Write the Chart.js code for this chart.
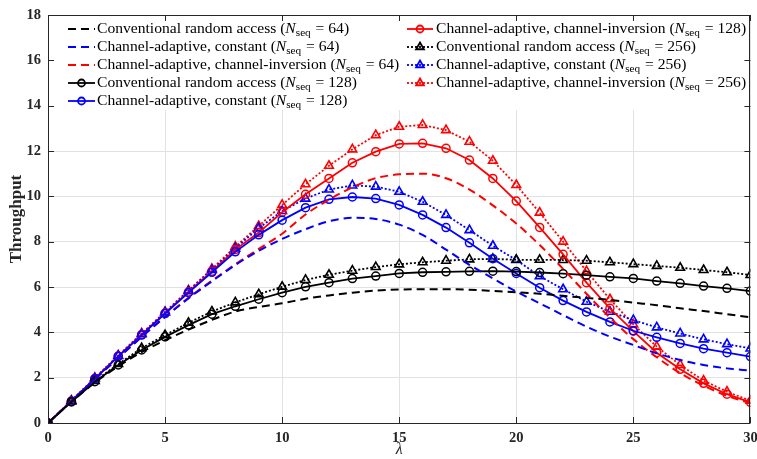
<!DOCTYPE html>
<html>
<head>
<meta charset="utf-8">
<script src="https://cdn.jsdelivr.net/npm/chart.js@4.4.0/dist/chart.umd.min.js"></script>
<style>
  html, body { margin: 0; padding: 0; background: #fff; }
  #wrap { width: 757px; height: 459px; }
</style>
</head>
<body>
<div id="wrap"><canvas id="chart" width="757" height="459"></canvas></div>
<script>
// lambda values (x axis)
const lambda = [0, 1, 2, 3, 4, 5, 6, 7, 8, 9, 10, 11, 12, 13, 14, 15, 16, 17, 18, 19, 20, 21, 22, 23, 24, 25, 26, 27, 28, 29, 30];

// N_seq = 64 (dashed)
const cra64 = [0, 0.93, 1.78, 2.5, 3.13, 3.65, 4.12, 4.55, 4.92, 5.12, 5.28, 5.48, 5.63, 5.75, 5.84, 5.89, 5.9, 5.9, 5.88, 5.83, 5.77, 5.7, 5.61, 5.52, 5.43, 5.31, 5.2, 5.06, 4.94, 4.8, 4.66];
const ca64 = [0, 0.97, 1.93, 2.87, 3.8, 4.68, 5.5, 6.25, 6.97, 7.6, 8.12, 8.55, 8.9, 9.05, 9.0, 8.75, 8.3, 7.65, 6.98, 6.38, 5.8, 5.28, 4.76, 4.25, 3.81, 3.44, 3.07, 2.78, 2.56, 2.41, 2.31];
const ci64 = [0, 0.97, 1.93, 2.87, 3.8, 4.68, 5.52, 6.28, 7.0, 7.68, 8.35, 9.2, 9.85, 10.4, 10.8, 10.97, 11.0, 10.8, 10.3, 9.6, 8.8, 7.85, 6.8, 5.7, 4.65, 3.7, 2.9, 2.2, 1.65, 1.2, 0.87];

// N_seq = 128 (solid, circles)
const cra128 = [0, 0.93, 1.82, 2.56, 3.22, 3.8, 4.32, 4.8, 5.15, 5.46, 5.75, 6.01, 6.19, 6.37, 6.48, 6.6, 6.65, 6.67, 6.69, 6.7, 6.68, 6.64, 6.59, 6.52, 6.45, 6.38, 6.26, 6.16, 6.04, 5.94, 5.82];
const ca128 = [0, 0.96, 1.95, 2.94, 3.88, 4.83, 5.75, 6.65, 7.55, 8.3, 8.95, 9.5, 9.87, 9.97, 9.9, 9.62, 9.18, 8.62, 7.95, 7.25, 6.6, 5.97, 5.4, 4.9, 4.46, 4.07, 3.78, 3.51, 3.28, 3.1, 2.93];
const ci128 = [0, 0.97, 1.96, 2.95, 3.9, 4.85, 5.78, 6.7, 7.65, 8.4, 9.3, 10.09, 10.79, 11.48, 11.97, 12.31, 12.34, 12.12, 11.6, 10.79, 9.79, 8.63, 7.44, 6.19, 5.06, 4.05, 3.1, 2.37, 1.75, 1.27, 0.91];

// N_seq = 256 (dotted, triangles)
const cra256 = [0, 0.95, 1.85, 2.6, 3.3, 3.88, 4.42, 4.92, 5.32, 5.68, 6.01, 6.31, 6.54, 6.72, 6.88, 7.0, 7.09, 7.16, 7.22, 7.24, 7.2, 7.2, 7.19, 7.16, 7.09, 7.01, 6.93, 6.85, 6.75, 6.65, 6.53];
const ca256 = [0, 0.98, 1.97, 2.96, 3.92, 4.88, 5.82, 6.75, 7.7, 8.6, 9.35, 9.9, 10.3, 10.48, 10.43, 10.2, 9.76, 9.18, 8.51, 7.82, 7.19, 6.48, 5.9, 5.35, 4.91, 4.54, 4.22, 3.95, 3.69, 3.48, 3.29];
const ci256 = [0, 0.99, 1.99, 2.98, 3.95, 4.9, 5.85, 6.8, 7.78, 8.69, 9.62, 10.53, 11.35, 12.07, 12.7, 13.07, 13.15, 12.92, 12.41, 11.57, 10.5, 9.28, 8.0, 6.7, 5.46, 4.35, 3.37, 2.56, 1.87, 1.38, 0.98];

const schemeNames = ['Conventional random access', 'Channel-adaptive, constant', 'Channel-adaptive, channel-inversion'];
const nseqValues = [64, 128, 256];
const xTicks = [0, 5, 10, 15, 20, 25, 30];
const yTicks = [0, 2, 4, 6, 8, 10, 12, 14, 16, 18];

const colors = ['#000000', '#0000ff', '#ff0000'];
const serif = '"Liberation Serif", "DejaVu Serif", serif';

function points(ys) {
    return ys.map((y, i) => ({ x: lambda[i], y: y }));
}

function makeSet(ys, scheme, nIdx) {
    const base = {
        label: schemeNames[scheme] + ' (Nseq = ' + nseqValues[nIdx] + ')',
        data: points(ys),
        borderColor: colors[scheme],
        pointBorderColor: colors[scheme],
        pointBackgroundColor: 'rgba(0,0,0,0)',
        backgroundColor: 'rgba(0,0,0,0)',
        fill: false,
        borderWidth: 1.8,
        tension: 0
    };
    if (nIdx === 0) {
        base.borderDash = [8, 5];
        base.pointRadius = 0;
        base.cubicInterpolationMode = 'monotone';
        base.borderWidth = 2;
    } else if (nIdx === 1) {
        base.pointStyle = 'circle';
        base.pointRadius = 4;
        base.pointBorderWidth = 1.5;
    } else {
        base.borderDash = [2, 2];
        base.pointStyle = 'triangle';
        base.pointRadius = 5;
        base.pointBorderWidth = 1.6;
    }
    base.meta = { scheme: scheme, nIdx: nIdx };
    return base;
}

const datasets = [
    makeSet(cra64, 0, 0), makeSet(ca64, 1, 0), makeSet(ci64, 2, 0),
    makeSet(cra128, 0, 1), makeSet(ca128, 1, 1), makeSet(ci128, 2, 1),
    makeSet(cra256, 0, 2), makeSet(ca256, 1, 2), makeSet(ci256, 2, 2)
];

// legend: two columns drawn inside the axes, MATLAB style
const legendPlugin = {
    id: 'matlabLegend',
    afterDatasetsDraw(chart) {
        const ctx = chart.ctx;
        const area = chart.chartArea;
        ctx.save();
        ctx.fillStyle = '#ffffff';
        ctx.fillRect(area.left + 1, area.top + 1, area.right - area.left - 2, 94);
        const fs = 15.6;
        const rowY = [29, 47, 65, 83, 101];
        const cols = [{ x0: 68, x1: 95, tx: 97 }, { x0: 407, x1: 433, tx: 436 }];
        chart.data.datasets.forEach((ds, i) => {
            const col = i < 5 ? cols[0] : cols[1];
            const y = i < 5 ? rowY[i] : rowY[i - 5];
            ctx.strokeStyle = ds.borderColor;
            ctx.lineWidth = ds.borderWidth;
            ctx.setLineDash(ds.borderDash || []);
            ctx.beginPath();
            ctx.moveTo(col.x0, y);
            ctx.lineTo(col.x1, y);
            ctx.stroke();
            ctx.setLineDash([]);
            if (ds.pointRadius > 0) {
                ctx.fillStyle = 'rgba(0,0,0,0)';
                Chart.helpers.drawPoint(ctx, {
                    pointStyle: ds.pointStyle,
                    radius: ds.pointRadius - 0.5,
                    borderWidth: ds.pointBorderWidth,
                    rotation: 0
                }, (col.x0 + col.x1) / 2, y);
            }
            // text with italic N and subscript seq
            let x = col.tx;
            ctx.fillStyle = '#000';
            ctx.textBaseline = 'middle';
            ctx.textAlign = 'left';
            ctx.font = fs + 'px ' + serif;
            let s = schemeNames[ds.meta.scheme] + ' (';
            ctx.fillText(s, x, y);
            x += ctx.measureText(s).width;
            ctx.font = 'italic ' + fs + 'px ' + serif;
            ctx.fillText('N', x, y);
            x += ctx.measureText('N').width;
            ctx.font = (fs * 0.72) + 'px ' + serif;
            ctx.fillText('seq', x, y + 4);
            x += ctx.measureText('seq').width + 1;
            ctx.font = fs + 'px ' + serif;
            ctx.fillText(' = ' + nseqValues[ds.meta.nIdx] + ')', x, y);
        });
        ctx.restore();
    }
};

// axes box with inward ticks
const framePlugin = {
    id: 'frame',
    afterDraw(chart) {
        const ctx = chart.ctx;
        const a = chart.chartArea;
        const xs = chart.scales.x, ys = chart.scales.y;
        ctx.save();
        ctx.strokeStyle = '#262626';
        ctx.lineWidth = 1;
        ctx.strokeRect(Math.round(a.left) + 0.5, Math.round(a.top) + 0.5, Math.round(a.right - a.left) - 1, Math.round(a.bottom - a.top));
        ctx.beginPath();
        xTicks.forEach(t => {
            const px = Math.round(xs.getPixelForValue(t)) + 0.5;
            ctx.moveTo(px, a.bottom); ctx.lineTo(px, a.bottom - 6);
            ctx.moveTo(px, a.top); ctx.lineTo(px, a.top + 6);
        });
        yTicks.forEach(t => {
            const py = Math.round(ys.getPixelForValue(t)) + 0.5;
            ctx.moveTo(a.left, py); ctx.lineTo(a.left + 6, py);
            ctx.moveTo(a.right, py); ctx.lineTo(a.right - 6, py);
        });
        ctx.stroke();
        ctx.restore();
    }
};

const ctx = document.getElementById('chart').getContext('2d');
const chart = new Chart(ctx, {
    type: 'line',
    data: { datasets: datasets },
    options: {
        responsive: false,
        animation: false,
        layout: { padding: { left: 0, right: 5, top: 15, bottom: 0 } },
        plugins: { legend: { display: false }, tooltip: { enabled: false } },
        scales: {
            x: {
                type: 'linear',
                min: 0, max: 30,
                afterBuildTicks: s => { s.ticks = xTicks.map(v => ({ value: v })); },
                afterFit: s => { s.height = 36; s.paddingLeft = 0; s.paddingRight = 0; },
                grid: { color: '#e2e2e2', drawTicks: false, lineWidth: 1 },
                border: { display: false },
                ticks: { padding: 7, color: '#262626', font: { family: serif, size: 14.5, weight: 'bold' }, maxRotation: 0 },
                title: { display: true, text: 'λ', color: '#262626', font: { family: serif, size: 16, style: 'italic' }, padding: { top: 0, bottom: 0 } }
            },
            y: {
                min: 0, max: 18,
                afterBuildTicks: s => { s.ticks = yTicks.map(v => ({ value: v })); },
                afterFit: s => { s.width = 48; s.paddingTop = 0; s.paddingBottom = 0; },
                grid: { color: '#e2e2e2', drawTicks: false, lineWidth: 1 },
                border: { display: false },
                ticks: { padding: 7, color: '#262626', font: { family: serif, size: 14.5, weight: 'bold' } },
                title: { display: true, text: 'Throughput', color: '#262626', font: { family: serif, size: 17, weight: 'bold' }, padding: { top: 6, bottom: 0 } }
            }
        }
    },
    plugins: [legendPlugin, framePlugin]
});
</script>
</body>
</html>
